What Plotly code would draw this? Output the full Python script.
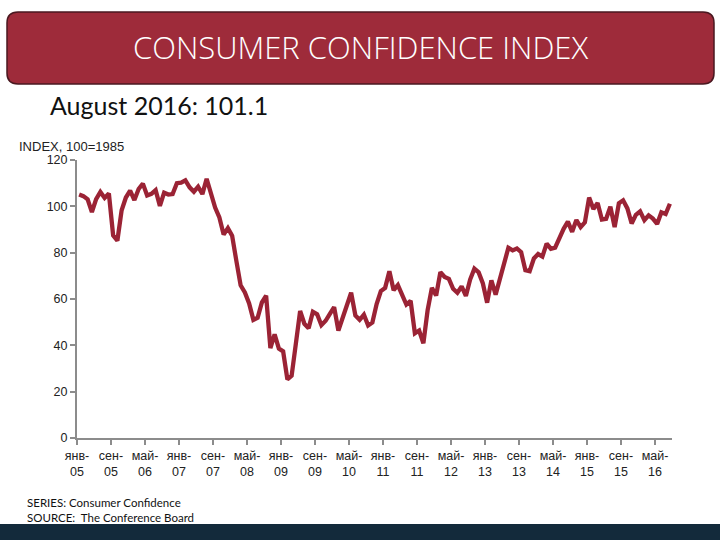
import plotly.graph_objects as go
import pandas as pd

# Consumer Confidence Index, monthly Jan 2005 - Aug 2016 (100 = 1985)
values = [
    105.1, 104.4, 103.0, 97.5, 103.1, 106.2, 103.6, 105.5, 87.5, 85.2, 98.3, 103.8,   # 2005
    106.8, 102.7, 107.5, 109.8, 104.7, 105.4, 107.0, 100.2, 105.9, 105.1, 105.3, 110.0,  # 2006
    110.2, 111.2, 108.2, 106.3, 108.5, 105.3, 111.9, 105.6, 99.5, 95.2, 87.8, 90.6,     # 2007
    87.3, 76.4, 65.9, 62.8, 58.1, 51.0, 51.9, 58.5, 61.4, 38.8, 44.7, 38.6,             # 2008
    37.4, 25.3, 26.9, 40.8, 54.8, 49.3, 47.4, 54.5, 53.4, 48.7, 50.6, 53.6,             # 2009
    56.5, 46.4, 52.3, 57.7, 62.7, 52.9, 51.0, 53.2, 48.6, 49.9, 57.8, 63.4,             # 2010
    64.8, 72.0, 63.8, 66.0, 61.7, 57.6, 59.2, 45.2, 46.4, 40.9, 55.2, 64.8,             # 2011
    61.5, 71.6, 69.5, 68.7, 64.4, 62.7, 65.4, 61.3, 68.4, 73.1, 71.5, 66.7,             # 2012
    58.4, 68.0, 61.9, 69.0, 74.3, 82.1, 81.0, 81.8, 80.2, 72.4, 72.0, 77.5,             # 2013
    79.4, 78.3, 83.9, 81.7, 82.2, 86.4, 90.3, 93.4, 89.0, 94.1, 91.0, 93.1,             # 2014
    103.8, 98.8, 101.4, 94.3, 94.6, 99.8, 91.0, 101.3, 102.6, 99.1, 92.6, 96.3,         # 2015
    97.8, 94.0, 96.1, 94.7, 92.4, 97.4, 96.7, 101.1,                                    # 2016
]
months = pd.date_range("2005-01-01", periods=len(values), freq="MS")
ru_months = ["янв", "фев", "мар", "апр", "май", "июн",
             "июл", "авг", "сен", "окт", "ноя", "дек"]
tick_step = 8
y_ticks = [0, 20, 40, 60, 80, 100, 120]

title_text = "CONSUMER CONFIDENCE INDEX"
subtitle_text = "August 2016: 101.1"
unit_text = "INDEX, 100=1985"
series_text = "SERIES: Consumer Confidence"
source_text = "SOURCE:  The Conference Board"

# ---- layout geometry (pixels) ----
W, H = 720, 540
ML, MR, MT, MB = 77, 48, 160, 102
PW, PH = W - ML - MR, H - MT - MB

def px(x):
    return (x - ML) / PW

def py(y):
    return (H - MB - y) / PH

x_pos = [i + 0.5 for i in range(len(values))]
tickvals = list(range(0, len(values), tick_step))
ticktext = [f"{ru_months[months[i].month - 1]}-<br>{months[i].strftime('%y')}" for i in tickvals]

fig = go.Figure()
fig.add_trace(go.Scatter(
    x=x_pos, y=values, mode="lines",
    line=dict(color="#9B2335", width=4.3),
    hoverinfo="skip", showlegend=False,
))

# rounded banner
x0, x1, y0, y1, r = 7, 714, 12, 84, 11
rx, ry = r / PW, r / PH
X0, X1, Y0, Y1 = px(x0), px(x1), py(y0), py(y1)
path = (f"M {X0+rx},{Y0} L {X1-rx},{Y0} Q {X1},{Y0} {X1},{Y0-ry} "
        f"L {X1},{Y1+ry} Q {X1},{Y1} {X1-rx},{Y1} "
        f"L {X0+rx},{Y1} Q {X0},{Y1} {X0},{Y1+ry} "
        f"L {X0},{Y0-ry} Q {X0},{Y0} {X0+rx},{Y0} Z")
shapes = [
    dict(type="path", xref="paper", yref="paper", path=path,
         fillcolor="#9E2B3A", line=dict(color="#4A1820", width=1.5), layer="above"),
    dict(type="rect", xref="paper", yref="paper",
         x0=px(0), x1=px(W), y0=py(524), y1=py(H),
         fillcolor="#132A3B", line=dict(width=0), layer="above"),
]

annotations = [
    dict(text=title_text, xref="paper", yref="paper", x=px(360), y=py(47),
         xanchor="center", yanchor="middle", showarrow=False,
         font=dict(family="Open Sans", size=31, color="white", weight=300)),
    dict(text=subtitle_text, xref="paper", yref="paper", x=px(48), y=py(105),
         xanchor="left", yanchor="middle", showarrow=False,
         font=dict(family="Lato", size=25, color="#111111")),
    dict(text=unit_text, xref="paper", yref="paper", x=px(17), y=py(146),
         xanchor="left", yanchor="middle", showarrow=False,
         font=dict(family="Liberation Sans", size=13, color="#222222")),
    dict(text=series_text, xref="paper", yref="paper", x=px(25), y=py(502),
         xanchor="left", yanchor="middle", showarrow=False,
         font=dict(family="Lato", size=11.5, color="#111111")),
    dict(text=source_text, xref="paper", yref="paper", x=px(25), y=py(517),
         xanchor="left", yanchor="middle", showarrow=False,
         font=dict(family="Lato", size=11.5, color="#111111")),
]

fig.update_layout(
    width=W, height=H,
    margin=dict(l=ML, r=MR, t=MT, b=MB, pad=0),
    paper_bgcolor="white", plot_bgcolor="white",
    shapes=shapes, annotations=annotations,
    xaxis=dict(range=[0, len(values)], tickmode="array", tickvals=tickvals, ticktext=ticktext,
               showgrid=False, zeroline=False, showline=True, linecolor="#8C8C8C", linewidth=2,
               ticks="outside", ticklen=5, tickwidth=2, tickcolor="#8C8C8C",
               tickfont=dict(family="Liberation Sans", size=12.5, color="#222222"),
               tickangle=0, fixedrange=True),
    yaxis=dict(range=[0, 120], tickmode="array", tickvals=y_ticks,
               showgrid=False, zeroline=False, showline=True, linecolor="#8C8C8C", linewidth=2,
               ticks="outside", ticklen=5, tickwidth=2, tickcolor="#8C8C8C",
               tickfont=dict(family="Liberation Sans", size=12.5, color="#222222"),
               fixedrange=True),
)

fig.write_html("out.html", config={"displayModeBar": False},
               post_script="document.body.style.margin='0';document.body.style.overflow='hidden';")
